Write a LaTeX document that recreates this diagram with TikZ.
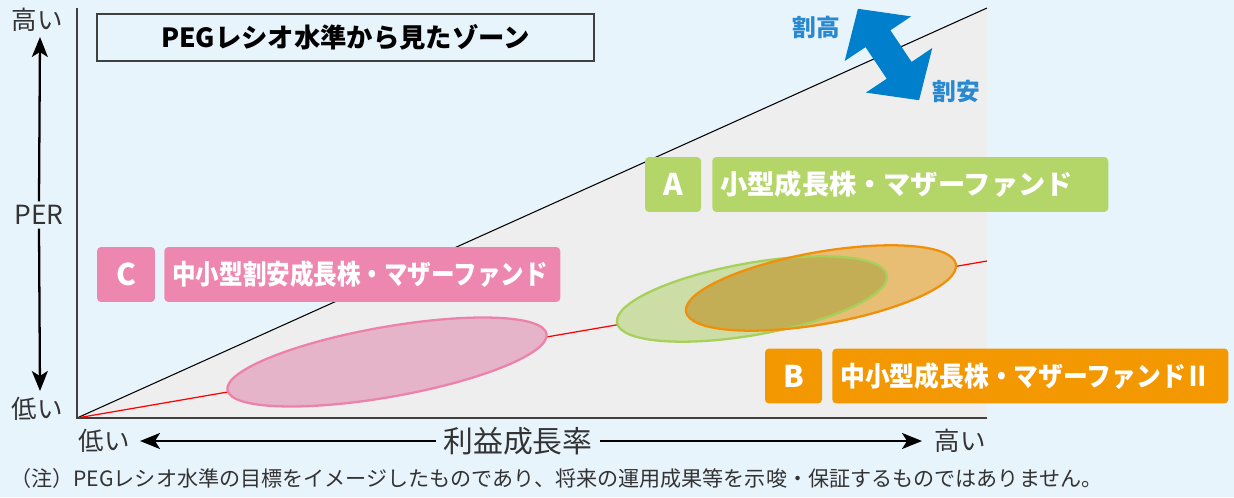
\documentclass[tikz,border=0pt]{standalone}
\usepackage{fontspec}
\setmainfont{Noto Sans CJK JP}
\usetikzlibrary{arrows.meta}
\definecolor{bg}{RGB}{232,244,252}
\definecolor{zone}{RGB}{238,238,238}
\definecolor{cA}{RGB}{180,213,104}
\definecolor{cB}{RGB}{243,152,0}
\definecolor{cC}{RGB}{238,135,176}
\definecolor{pinkfill}{RGB}{230,180,200}
\definecolor{pinkline}{RGB}{236,130,172}
\definecolor{greenfill}{RGB}{205,221,166}
\definecolor{greenline}{RGB}{166,208,90}
\definecolor{orangefill}{RGB}{232,190,116}
\definecolor{orangeline}{RGB}{240,144,10}
\definecolor{overlapfill}{RGB}{196,174,85}
\definecolor{arrowblue}{RGB}{0,128,204}
\definecolor{textblue}{RGB}{40,136,208}
\definecolor{axisgray}{RGB}{64,64,64}
\definecolor{textgray}{RGB}{51,51,51}
\newcommand\fsz[1]{\fontsize{#1}{#1}\selectfont}
\tikzset{
  axisline/.style={draw=axisgray, line width=1.1pt},
  arr/.style={draw=black, line width=1.3pt, -{Stealth[length=0.4cm, width=0.32cm, inset=0.1cm]}},
  axtext/.style={text=textgray, inner sep=2pt},
  keybox/.style={rounded corners=2.3pt, text=white, inner sep=0pt, minimum height=1.1cm, font=\fsz{17}\bfseries},
  namebox/.style={rounded corners=2.3pt, text=white, anchor=west, inner xsep=0.16cm, inner ysep=0pt,
     minimum height=1.1cm, text width=7.6cm, align=left, font=\fsz{15.5}\bfseries},
  bluetext/.style={text=textblue, font=\fsz{13.5}\bfseries, inner sep=0pt},
}
\begin{document}
\begin{tikzpicture}[x=0.02cm, y=-0.02cm]
\useasboundingbox[fill=bg] (0,0) rectangle (1234,497);
% key coordinates
\coordinate (O) at (77,418);
\coordinate (Ytop) at (77,8);
\coordinate (Xend) at (987,418);
\coordinate (Dtop) at (987,8);
\coordinate (Rend) at (987,261);
% zone
\fill[zone] (O) -- (Dtop) -- (Xend) -- cycle;
\draw[black, line width=0.6pt] (O) -- (Dtop);
\draw[red, line width=0.7pt] (O) -- (Rend);
% ellipses
\filldraw[fill=pinkfill, draw=pinkline, line width=1.3pt, shift={(387,362)}, rotate=10] (0,0) ellipse [x radius=162, y radius=35];
\fill[greenfill, shift={(752,299)}, rotate=10] (0,0) ellipse [x radius=137, y radius=36];
\fill[orangefill, shift={(821,288)}, rotate=10] (0,0) ellipse [x radius=137, y radius=36];
\begin{scope}
  \clip[shift={(752,299)}, rotate=10] (0,0) ellipse [x radius=137, y radius=36];
  \fill[overlapfill, shift={(821,288)}, rotate=10] (0,0) ellipse [x radius=137, y radius=36];
\end{scope}
\draw[greenline, line width=1.3pt, shift={(752,299)}, rotate=10] (0,0) ellipse [x radius=137, y radius=36];
\draw[orangeline, line width=1.3pt, shift={(821,288)}, rotate=10] (0,0) ellipse [x radius=137, y radius=36];
% axes
\draw[axisline] (Ytop) -- (O) -- (Xend);
% title
\node[draw=axisgray, line width=0.9pt, minimum width=9.94cm, minimum height=0.94cm, inner sep=0pt,
  font=\fsz{15}\bfseries] (title) at (345.5,37.5) {PEGレシオ水準から見たゾーン};
% blue double arrow
\fill[arrowblue] (857.9,8.8) -- (911.1,16.4) -- (890.4,30.3) -- (911.6,61.9) -- (932.3,48.0)
  -- (919.1,100.2) -- (865.9,92.6) -- (886.7,78.7) -- (865.5,47.1) -- (844.7,61.0) -- cycle;
\node[bluetext] (expensive) at (816,27) {割高};
\node[bluetext] (cheap) at (956,91) {割安};
% vertical axis labels
\node[axtext, font=\fsz{14.5}] (yhigh) at (37,20) {高い};
\node[axtext, font=\fsz{15}] (per) at (39,215) {PER};
\node[axtext, font=\fsz{14.5}] (ylow) at (37,409) {低い};
\coordinate (vt) at (40,37);
\coordinate (vb) at (40,391);
\draw[arr] (per.north) -- (vt);
\draw[arr] (per.south) -- (vb);
% horizontal axis labels
\node[axtext, font=\fsz{14.5}] (xlow) at (104,441) {低い};
\node[axtext, font=\fsz{17}, inner xsep=4pt] (xlabel) at (518,441) {利益成長率};
\node[axtext, font=\fsz{14.5}] (xhigh) at (960,441) {高い};
\coordinate (xl) at (140,441);
\coordinate (xr) at (922,441);
\draw[arr] (xlabel.west) -- (xl);
\draw[arr] (xlabel.east) -- (xr);
% labels A, B, C
\node[keybox, fill=cA, minimum width=1.12cm] (akey) at (673,184.5) {A};
\node[namebox, fill=cA] (aname) at (712,184.5) {\scalebox{1.0}[1]{小型成長株・マザーファンド}};
\node[keybox, fill=cB, minimum width=1.14cm] (bkey) at (793.5,376) {B};
\node[namebox, fill=cB] (bname) at (832,376) {\scalebox{0.91}[1]{中小型成長株・マザーファンドⅡ}};
\node[keybox, fill=cC, minimum width=1.16cm] (ckey) at (126,274.5) {C};
\node[namebox, fill=cC] (cname) at (164,274.5) {\scalebox{0.865}[1]{中小型割安成長株・マザーファンド}};
% footnote
\node[anchor=west, text=textgray, font=\fsz{12}, inner sep=0pt] (note) at (10,478)
  {（注）PEGレシオ水準の目標をイメージしたものであり、将来の運用成果等を示唆・保証するものではありません。};
\end{tikzpicture}
\end{document}
